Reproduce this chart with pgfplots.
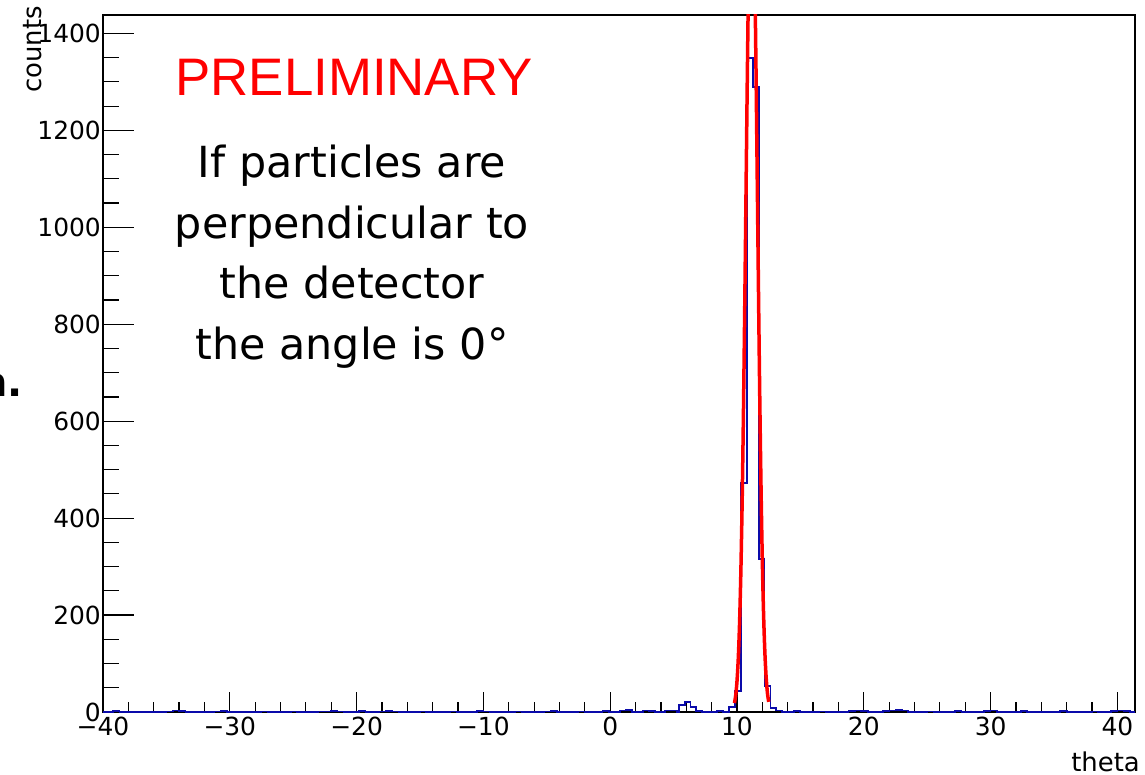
\documentclass[border=0pt]{standalone}
\usepackage{fontspec}
\setmainfont{DejaVu Sans}
\newfontfamily\libsans{Liberation Sans}
\usepackage{pgfplots}
\pgfplotsset{compat=1.18}
\definecolor{histblue}{RGB}{10,10,170}
\begin{document}
\begin{tikzpicture}
\path[use as bounding box] (-103bp,-63bp) rectangle (1042bp,712bp);
\begin{axis}[
  scale only axis, width=1032bp, height=697bp,
  xmin=-40, xmax=41.39, ymin=0, ymax=1438,
  axis line style={line width=1.6bp, black},
  tick align=inside, xtick pos=bottom, ytick pos=left,
  xtick={-40,-30,...,40},
  xticklabels={−40,−30,−20,−10,0,10,20,30,40},
  ytick={0,200,...,1400},
  minor x tick num=4, minor y tick num=3,
  major tick length=31bp, minor tick length=16bp,
  xtick style={/pgfplots/major tick length=20bp,/pgfplots/minor tick length=10bp},
  tick style={line width=1.2bp, black},
  /pgf/number format/assume math mode=true,
  /pgf/number format/1000 sep={},
  ticklabel style={font=\fontsize{25}{25}\selectfont},
  xticklabel style={yshift=-1.7bp},
  yticklabel style={inner sep=0pt, xshift=-2bp},
]
\addplot[histblue, line width=1.8bp, const plot] coordinates {
(-40,0)
(-39.2,2) (-38.7,0)
(-35.0,1) (-34.5,3) (-34.0,2) (-33.5,0)
(-31.2,1) (-30.7,2) (-30.2,0)
(-27.5,1) (-27.0,0)
(-25.2,1) (-24.7,0)
(-23.0,1) (-22.0,2) (-21.5,1) (-21.0,0)
(-19.8,2) (-19.3,0)
(-18.2,1) (-17.7,2) (-17.2,1) (-16.7,0)
(-15.0,1) (-14.5,0)
(-12.6,1) (-12.1,0)
(-10.5,2) (-10.0,1) (-9.5,0)
(-7.5,1) (-7.0,0)
(-5.2,1) (-4.7,2) (-4.2,0)
(-2.5,1) (-2.0,0)
(-0.6,2) (-0.1,0)
(0.8,3) (1.27,4) (1.74,0)
(2.6,3) (3.07,2) (3.54,0)
(4.3,3) (4.77,3) (5.24,0)
(5.45,15) (5.9,20) (6.33,10) (6.78,2) (7.25,0)
(8.45,2) (8.915,0)
(9.38,10) (9.845,44) (10.31,472) (10.775,1350) (11.24,1289) (11.705,315) (12.17,53) (12.635,8) (13.10,3) (13.565,0)
(14.5,2) (15.0,0)
(16.5,1) (17.0,0)
(18.8,2) (19.3,3) (19.8,2) (20.3,0)
(21.5,2) (22.0,3) (22.5,4) (23.0,3) (23.5,0)
(25.0,1) (25.5,0)
(27.2,2) (27.7,0)
(29.5,2) (30.0,3) (30.5,0)
(32.4,2) (32.9,0)
(35.5,2) (36.0,0)
(38.0,1) (38.5,0)
(39.5,2) (40.0,3) (40.5,2) (41.0,0) (41.39,0)
};
\addplot[red, line width=3.5bp, smooth] coordinates {
(9.8,18.3) (9.9,34.9) (10.0,63.5) (10.1,109.9) (10.2,180.9) (10.3,283.7)
(10.4,423) (10.5,600.7) (10.6,811.9) (10.7,1044) (10.8,1279) (10.9,1490)
(11.0,1653) (11.1,1745) (11.2,1754) (11.3,1678) (11.4,1527) (11.5,1324)
(11.6,1092) (11.7,857) (11.8,640) (11.9,455.6) (12.0,308.6) (12.1,198.6)
(12.2,121.9) (12.3,71.1) (12.4,39.5) (12.5,20.9)
};
\end{axis}
\node[anchor=base, inner sep=0pt, text=red, font=\libsans\fontsize{53}{53}\selectfont] at (251bp,616bp) {PRELIMINARY};
\node[anchor=base, inner sep=0pt, font=\fontsize{43}{43}\selectfont] at (249bp,534bp) {If particles are};
\node[anchor=base, inner sep=0pt, font=\fontsize{43}{43}\selectfont] at (249bp,473.5bp) {perpendicular to};
\node[anchor=base, inner sep=0pt, font=\fontsize{43}{43}\selectfont] at (249bp,413bp) {the detector};
\node[anchor=base, inner sep=0pt, font=\fontsize{43}{43}\selectfont] at (249bp,352.5bp) {the angle is 0°};
\node[rotate=90, anchor=base east, inner sep=0pt, font=\fontsize{26}{26}\selectfont] at (-61bp,706bp) {counts};
\node[anchor=base east, inner sep=0pt, font=\fontsize{26}{26}\selectfont] at (1037bp,-59bp) {theta};
\node[anchor=base east, inner sep=0pt, font=\bfseries\fontsize{40}{40}\selectfont] at (-80bp,315bp) {n.};
\end{tikzpicture}
\end{document}
